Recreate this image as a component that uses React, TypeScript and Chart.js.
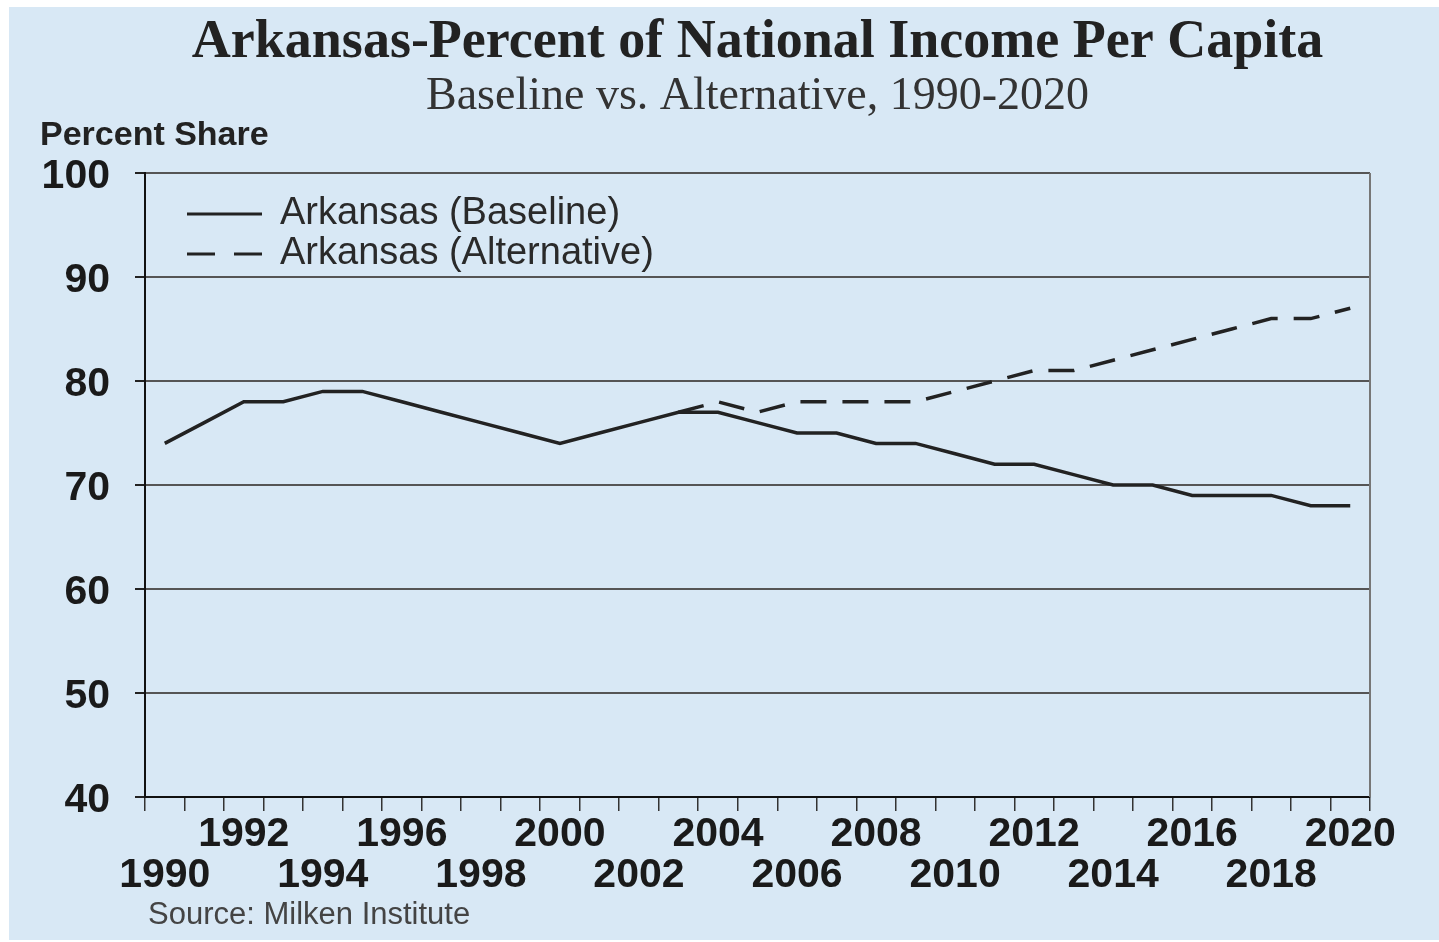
import React, { useEffect, useRef } from 'react';
import { Chart, registerables } from 'chart.js';

Chart.register(...registerables);

const years = [
  '1990', '1991', '1992', '1993', '1994', '1995', '1996', '1997', '1998', '1999',
  '2000', '2001', '2002', '2003', '2004', '2005', '2006', '2007', '2008', '2009',
  '2010', '2011', '2012', '2013', '2014', '2015', '2016', '2017', '2018', '2019', '2020',
];

const baseline = [
  74, 76, 78, 78, 79, 79, 78, 77, 76, 75,
  74, 75, 76, 77, 77, 76, 75, 75, 74, 74,
  73, 72, 72, 71, 70, 70, 69, 69, 69, 68, 68,
];

const alternative = [
  null, null, null, null, null, null, null, null, null, null,
  null, null, null, 77, 78, 77, 78, 78, 78, 78,
  79, 80, 81, 81, 82, 83, 84, 85, 86, 86, 87,
];

const topRowLabels = ['1992', '1996', '2000', '2004', '2008', '2012', '2016', '2020'];
const bottomRowLabels = ['1990', '1994', '1998', '2002', '2006', '2010', '2014', '2018'];

const seriesNames = ['Arkansas (Baseline)', 'Arkansas (Alternative)'];

const titleText = 'Arkansas-Percent of National Income Per Capita';
const subtitleText = 'Baseline vs. Alternative, 1990-2020';

const SANS = '"Liberation Sans", Arial, Helvetica, sans-serif';
const SERIF = '"Liberation Serif", "Times New Roman", Times, serif';
const BG = '#d8e8f5';

const insideLegend = {
  id: 'insideLegend',
  afterDatasetsDraw(chart: any) {
    const { ctx, chartArea } = chart;
    ctx.save();
    chart.data.datasets.forEach((ds: any, i: number) => {
      const y = chartArea.top + 41 + i * 40;
      const x0 = chartArea.left + 42;
      ctx.strokeStyle = ds.borderColor;
      ctx.lineWidth = 3;
      ctx.setLineDash(ds.borderDash && ds.borderDash.length ? [28, 19] : []);
      ctx.beginPath();
      ctx.moveTo(x0, y);
      ctx.lineTo(x0 + 75, y);
      ctx.stroke();
      ctx.setLineDash([]);
      ctx.fillStyle = '#2a2a2a';
      ctx.font = `38px ${SANS}`;
      ctx.textBaseline = 'middle';
      ctx.textAlign = 'left';
      ctx.fillText(ds.label, x0 + 93, y);
    });
    ctx.restore();
  },
};

const rightBorder = {
  id: 'rightBorder',
  beforeDatasetsDraw(chart: any) {
    const { ctx, chartArea } = chart;
    ctx.save();
    ctx.strokeStyle = '#777777';
    ctx.lineWidth = 2;
    ctx.beginPath();
    ctx.moveTo(chartArea.right, chartArea.top);
    ctx.lineTo(chartArea.right, chartArea.bottom);
    ctx.stroke();
    ctx.restore();
  },
};

export default function App() {
  const canvasRef = useRef<HTMLCanvasElement | null>(null);

  useEffect(() => {
    if (!canvasRef.current) return;
    const chart = new Chart(canvasRef.current, {
      type: 'line',
      data: {
        labels: years,
        datasets: [
          {
            label: seriesNames[0],
            data: baseline,
            borderColor: '#222222',
            borderWidth: 3.5,
            pointRadius: 0,
            tension: 0,
            fill: false,
          },
          {
            label: seriesNames[1],
            data: alternative,
            borderColor: '#222222',
            borderWidth: 3.5,
            borderDash: [26, 16],
            pointRadius: 0,
            tension: 0,
            fill: false,
            spanGaps: false,
          },
        ],
      },
      options: {
        responsive: false,
        animation: false,
        layout: { padding: { left: 0, right: 69, top: 0, bottom: 0 } },
        plugins: {
          legend: { display: false },
          tooltip: { enabled: false },
          title: {
            display: true,
            fullSize: false,
            text: titleText,
            color: '#222222',
            font: { family: SERIF, size: 54, weight: 'bold', lineHeight: 1.0 },
            padding: { top: 9, bottom: 0 },
          },
          subtitle: {
            display: true,
            fullSize: false,
            text: subtitleText,
            color: '#333333',
            font: { family: SERIF, size: 46, weight: 'normal', lineHeight: 1.0 },
            padding: { top: 4, bottom: 53 },
          },
        },
        scales: {
          x: {
            type: 'category',
            offset: true,
            afterFit: (scale: any) => {
              scale.height = 143;
            },
            grid: {
              display: true,
              offset: true,
              drawOnChartArea: false,
              drawTicks: true,
              tickLength: 14,
              tickColor: '#333333',
              lineWidth: 1.5,
            },
            border: { display: true, color: '#111111', width: 2 },
            ticks: {
              autoSkip: false,
              maxRotation: 0,
              minRotation: 0,
              padding: 3,
              color: '#1a1a1a',
              font: { family: SANS, size: 41, weight: 'bold', lineHeight: 1.0 },
              callback: (_v: any, index: number) => {
                const y = years[index];
                if (topRowLabels.includes(y)) return [y, ''];
                if (bottomRowLabels.includes(y)) return ['', y];
                return '';
              },
            },
          },
          y: {
            min: 40,
            max: 100,
            afterFit: (scale: any) => {
              scale.width = 136;
            },
            grid: {
              color: '#555555',
              lineWidth: 2,
              drawTicks: true,
              tickLength: 10,
              tickColor: '#222222',
            },
            border: { display: true, color: '#111111', width: 2 },
            ticks: {
              stepSize: 10,
              padding: 25,
              labelOffset: 4,
              color: '#1a1a1a',
              font: { family: SANS, size: 41, weight: 'bold' },
            },
          },
        },
      },
      plugins: [rightBorder, insideLegend],
    } as any);
    return () => chart.destroy();
  }, []);

  return (
    <div
      style={{
        position: 'fixed',
        left: 9,
        top: 7,
        width: 1430,
        height: 933,
        background: BG,
        overflow: 'hidden',
      }}
    >
      <canvas
        ref={canvasRef}
        width={1430}
        height={933}
        style={{ position: 'absolute', left: 0, top: 0 }}
      />
      <div
        style={{
          position: 'absolute',
          left: 31,
          top: 109,
          fontFamily: SANS,
          fontWeight: 'bold',
          fontSize: 34,
          lineHeight: '34px',
          color: '#222222',
          whiteSpace: 'nowrap',
        }}
      >
        Percent Share
      </div>
      <div
        style={{
          position: 'absolute',
          left: 139,
          top: 891,
          fontFamily: SANS,
          fontSize: 31,
          lineHeight: '31px',
          color: '#444444',
          whiteSpace: 'nowrap',
        }}
      >
        Source: Milken Institute
      </div>
    </div>
  );
}
